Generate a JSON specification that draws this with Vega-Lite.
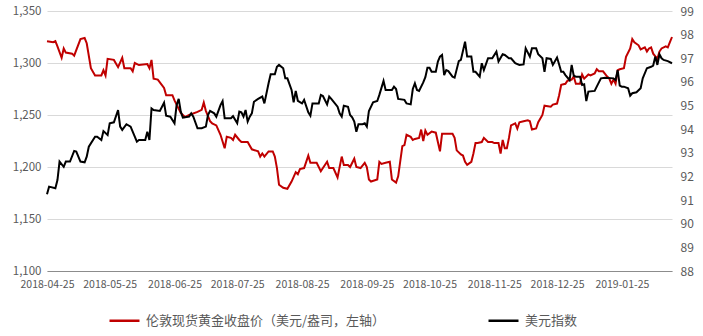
{
  "$schema": "https://vega.github.io/schema/vega-lite/v6.json",
  "width": 625,
  "height": 260,
  "autosize": {"type": "none"},
  "padding": {"left": 47, "top": 11, "right": 31, "bottom": 65},
  "background": "white",
  "config": {
    "view": {"stroke": null},
    "font": "Noto Sans CJK SC",
    "axis": {"labelColor": "#595959", "labelFont": "Noto Sans CJK SC"},
    "legend": {"labelFont": "Noto Sans CJK SC"}
  },
  "datasets": {
    "gold": [
      {"date": "2018-04-25", "v": 1321}, {"date": "2018-04-28", "v": 1320}, {"date": "2018-04-29", "v": 1321}, {"date": "2018-04-30", "v": 1316},
      {"date": "2018-05-02", "v": 1305}, {"date": "2018-05-03", "v": 1314}, {"date": "2018-05-04", "v": 1310}, {"date": "2018-05-07", "v": 1309},
      {"date": "2018-05-08", "v": 1307}, {"date": "2018-05-11", "v": 1323}, {"date": "2018-05-13", "v": 1324}, {"date": "2018-05-14", "v": 1319},
      {"date": "2018-05-16", "v": 1295}, {"date": "2018-05-18", "v": 1288}, {"date": "2018-05-21", "v": 1288}, {"date": "2018-05-22", "v": 1293},
      {"date": "2018-05-23", "v": 1288}, {"date": "2018-05-24", "v": 1304}, {"date": "2018-05-27", "v": 1303}, {"date": "2018-05-29", "v": 1296},
      {"date": "2018-05-31", "v": 1305}, {"date": "2018-06-01", "v": 1295}, {"date": "2018-06-04", "v": 1295}, {"date": "2018-06-05", "v": 1292},
      {"date": "2018-06-06", "v": 1300}, {"date": "2018-06-08", "v": 1298}, {"date": "2018-06-12", "v": 1299}, {"date": "2018-06-13", "v": 1295},
      {"date": "2018-06-14", "v": 1303}, {"date": "2018-06-15", "v": 1285}, {"date": "2018-06-17", "v": 1284}, {"date": "2018-06-20", "v": 1276},
      {"date": "2018-06-21", "v": 1269}, {"date": "2018-06-24", "v": 1269}, {"date": "2018-06-25", "v": 1264}, {"date": "2018-06-28", "v": 1252},
      {"date": "2018-06-30", "v": 1248}, {"date": "2018-07-02", "v": 1250}, {"date": "2018-07-06", "v": 1253}, {"date": "2018-07-08", "v": 1255},
      {"date": "2018-07-09", "v": 1262}, {"date": "2018-07-10", "v": 1254}, {"date": "2018-07-12", "v": 1244}, {"date": "2018-07-13", "v": 1242},
      {"date": "2018-07-15", "v": 1240}, {"date": "2018-07-17", "v": 1231}, {"date": "2018-07-19", "v": 1218}, {"date": "2018-07-20", "v": 1229},
      {"date": "2018-07-22", "v": 1228}, {"date": "2018-07-23", "v": 1226}, {"date": "2018-07-24", "v": 1231}, {"date": "2018-07-26", "v": 1226},
      {"date": "2018-07-27", "v": 1224}, {"date": "2018-07-30", "v": 1224}, {"date": "2018-08-01", "v": 1217}, {"date": "2018-08-04", "v": 1215},
      {"date": "2018-08-05", "v": 1210}, {"date": "2018-08-06", "v": 1213}, {"date": "2018-08-07", "v": 1210}, {"date": "2018-08-09", "v": 1215},
      {"date": "2018-08-11", "v": 1215}, {"date": "2018-08-12", "v": 1210}, {"date": "2018-08-13", "v": 1199}, {"date": "2018-08-14", "v": 1183},
      {"date": "2018-08-16", "v": 1180}, {"date": "2018-08-18", "v": 1179}, {"date": "2018-08-20", "v": 1186}, {"date": "2018-08-22", "v": 1195},
      {"date": "2018-08-23", "v": 1193}, {"date": "2018-08-24", "v": 1198}, {"date": "2018-08-26", "v": 1199}, {"date": "2018-08-28", "v": 1211},
      {"date": "2018-08-29", "v": 1204}, {"date": "2018-09-01", "v": 1204}, {"date": "2018-09-03", "v": 1196}, {"date": "2018-09-04", "v": 1199},
      {"date": "2018-09-06", "v": 1205}, {"date": "2018-09-07", "v": 1199}, {"date": "2018-09-09", "v": 1199}, {"date": "2018-09-11", "v": 1190},
      {"date": "2018-09-13", "v": 1210}, {"date": "2018-09-14", "v": 1202}, {"date": "2018-09-16", "v": 1202}, {"date": "2018-09-17", "v": 1200},
      {"date": "2018-09-19", "v": 1208}, {"date": "2018-09-20", "v": 1200}, {"date": "2018-09-22", "v": 1199}, {"date": "2018-09-24", "v": 1204},
      {"date": "2018-09-25", "v": 1200}, {"date": "2018-09-26", "v": 1188}, {"date": "2018-09-27", "v": 1186}, {"date": "2018-09-30", "v": 1188},
      {"date": "2018-10-01", "v": 1205}, {"date": "2018-10-02", "v": 1203}, {"date": "2018-10-04", "v": 1204}, {"date": "2018-10-06", "v": 1205},
      {"date": "2018-10-07", "v": 1188}, {"date": "2018-10-09", "v": 1185}, {"date": "2018-10-10", "v": 1191}, {"date": "2018-10-12", "v": 1220},
      {"date": "2018-10-13", "v": 1221}, {"date": "2018-10-14", "v": 1231}, {"date": "2018-10-16", "v": 1229}, {"date": "2018-10-17", "v": 1226},
      {"date": "2018-10-18", "v": 1227}, {"date": "2018-10-20", "v": 1228}, {"date": "2018-10-21", "v": 1236}, {"date": "2018-10-22", "v": 1225},
      {"date": "2018-10-23", "v": 1235}, {"date": "2018-10-24", "v": 1231}, {"date": "2018-10-26", "v": 1234}, {"date": "2018-10-28", "v": 1233},
      {"date": "2018-10-29", "v": 1224}, {"date": "2018-10-30", "v": 1215}, {"date": "2018-10-31", "v": 1232}, {"date": "2018-11-02", "v": 1232},
      {"date": "2018-11-05", "v": 1232}, {"date": "2018-11-06", "v": 1228}, {"date": "2018-11-07", "v": 1216}, {"date": "2018-11-09", "v": 1212},
      {"date": "2018-11-10", "v": 1211}, {"date": "2018-11-11", "v": 1205}, {"date": "2018-11-12", "v": 1202}, {"date": "2018-11-14", "v": 1205},
      {"date": "2018-11-15", "v": 1213}, {"date": "2018-11-16", "v": 1223}, {"date": "2018-11-17", "v": 1223}, {"date": "2018-11-19", "v": 1224},
      {"date": "2018-11-20", "v": 1228}, {"date": "2018-11-22", "v": 1224}, {"date": "2018-11-24", "v": 1224}, {"date": "2018-11-25", "v": 1223},
      {"date": "2018-11-27", "v": 1223}, {"date": "2018-11-28", "v": 1213}, {"date": "2018-11-29", "v": 1226}, {"date": "2018-11-30", "v": 1218},
      {"date": "2018-12-01", "v": 1218}, {"date": "2018-12-02", "v": 1228}, {"date": "2018-12-03", "v": 1240}, {"date": "2018-12-05", "v": 1242},
      {"date": "2018-12-06", "v": 1237}, {"date": "2018-12-07", "v": 1243}, {"date": "2018-12-09", "v": 1244}, {"date": "2018-12-11", "v": 1245},
      {"date": "2018-12-12", "v": 1244}, {"date": "2018-12-13", "v": 1236}, {"date": "2018-12-15", "v": 1237}, {"date": "2018-12-16", "v": 1243},
      {"date": "2018-12-18", "v": 1250}, {"date": "2018-12-19", "v": 1259}, {"date": "2018-12-22", "v": 1258}, {"date": "2018-12-23", "v": 1260},
      {"date": "2018-12-25", "v": 1261}, {"date": "2018-12-26", "v": 1269}, {"date": "2018-12-27", "v": 1279}, {"date": "2018-12-29", "v": 1280},
      {"date": "2018-12-30", "v": 1283}, {"date": "2019-01-01", "v": 1284}, {"date": "2019-01-02", "v": 1287}, {"date": "2019-01-03", "v": 1280},
      {"date": "2019-01-05", "v": 1280}, {"date": "2019-01-06", "v": 1289}, {"date": "2019-01-07", "v": 1285}, {"date": "2019-01-09", "v": 1289},
      {"date": "2019-01-10", "v": 1288}, {"date": "2019-01-12", "v": 1290}, {"date": "2019-01-13", "v": 1294}, {"date": "2019-01-14", "v": 1292},
      {"date": "2019-01-16", "v": 1292}, {"date": "2019-01-18", "v": 1287}, {"date": "2019-01-19", "v": 1285}, {"date": "2019-01-20", "v": 1280},
      {"date": "2019-01-21", "v": 1284}, {"date": "2019-01-22", "v": 1280}, {"date": "2019-01-23", "v": 1293}, {"date": "2019-01-24", "v": 1294},
      {"date": "2019-01-26", "v": 1295}, {"date": "2019-01-27", "v": 1306}, {"date": "2019-01-29", "v": 1314}, {"date": "2019-01-30", "v": 1323},
      {"date": "2019-01-31", "v": 1320}, {"date": "2019-02-02", "v": 1317}, {"date": "2019-02-03", "v": 1313}, {"date": "2019-02-05", "v": 1315},
      {"date": "2019-02-06", "v": 1311}, {"date": "2019-02-07", "v": 1314}, {"date": "2019-02-08", "v": 1315}, {"date": "2019-02-09", "v": 1309},
      {"date": "2019-02-11", "v": 1304}, {"date": "2019-02-12", "v": 1311}, {"date": "2019-02-13", "v": 1314}, {"date": "2019-02-15", "v": 1316},
      {"date": "2019-02-16", "v": 1315}, {"date": "2019-02-17", "v": 1320}, {"date": "2019-02-18", "v": 1325}
    ],
    "dxy": [
      {"date": "2018-04-25", "v": 91.25}, {"date": "2018-04-26", "v": 91.57}, {"date": "2018-04-29", "v": 91.5}, {"date": "2018-04-30", "v": 91.85},
      {"date": "2018-05-01", "v": 92.63}, {"date": "2018-05-03", "v": 92.41}, {"date": "2018-05-04", "v": 92.63}, {"date": "2018-05-06", "v": 92.63},
      {"date": "2018-05-08", "v": 93.08}, {"date": "2018-05-09", "v": 93.05}, {"date": "2018-05-11", "v": 92.63}, {"date": "2018-05-13", "v": 92.6},
      {"date": "2018-05-14", "v": 92.84}, {"date": "2018-05-15", "v": 93.26}, {"date": "2018-05-18", "v": 93.68}, {"date": "2018-05-19", "v": 93.68},
      {"date": "2018-05-21", "v": 93.54}, {"date": "2018-05-22", "v": 93.92}, {"date": "2018-05-24", "v": 93.75}, {"date": "2018-05-25", "v": 94.25},
      {"date": "2018-05-27", "v": 94.29}, {"date": "2018-05-29", "v": 94.81}, {"date": "2018-05-30", "v": 94.11}, {"date": "2018-05-31", "v": 93.97},
      {"date": "2018-06-02", "v": 94.21}, {"date": "2018-06-04", "v": 94.11}, {"date": "2018-06-07", "v": 93.47}, {"date": "2018-06-08", "v": 93.54},
      {"date": "2018-06-11", "v": 93.54}, {"date": "2018-06-12", "v": 93.89}, {"date": "2018-06-13", "v": 93.54}, {"date": "2018-06-14", "v": 94.88},
      {"date": "2018-06-15", "v": 94.81}, {"date": "2018-06-18", "v": 94.77}, {"date": "2018-06-20", "v": 95.12}, {"date": "2018-06-21", "v": 94.57},
      {"date": "2018-06-23", "v": 94.53}, {"date": "2018-06-25", "v": 94.25}, {"date": "2018-06-26", "v": 95.02}, {"date": "2018-06-27", "v": 95.28},
      {"date": "2018-06-28", "v": 94.74}, {"date": "2018-06-29", "v": 94.49}, {"date": "2018-07-02", "v": 94.53}, {"date": "2018-07-03", "v": 94.67},
      {"date": "2018-07-04", "v": 94.53}, {"date": "2018-07-06", "v": 94.04}, {"date": "2018-07-08", "v": 94.04}, {"date": "2018-07-10", "v": 94.11},
      {"date": "2018-07-11", "v": 94.6}, {"date": "2018-07-12", "v": 94.77}, {"date": "2018-07-14", "v": 94.67}, {"date": "2018-07-15", "v": 94.53},
      {"date": "2018-07-17", "v": 95.02}, {"date": "2018-07-18", "v": 95.19}, {"date": "2018-07-19", "v": 94.46}, {"date": "2018-07-22", "v": 94.46},
      {"date": "2018-07-23", "v": 94.55}, {"date": "2018-07-25", "v": 94.25}, {"date": "2018-07-26", "v": 94.74}, {"date": "2018-07-27", "v": 94.71},
      {"date": "2018-07-28", "v": 94.53}, {"date": "2018-07-29", "v": 94.81}, {"date": "2018-07-30", "v": 94.32}, {"date": "2018-07-31", "v": 94.53},
      {"date": "2018-08-01", "v": 94.67}, {"date": "2018-08-02", "v": 95.16}, {"date": "2018-08-04", "v": 95.28}, {"date": "2018-08-06", "v": 95.38},
      {"date": "2018-08-07", "v": 95.09}, {"date": "2018-08-09", "v": 95.94}, {"date": "2018-08-10", "v": 96.32}, {"date": "2018-08-12", "v": 96.32},
      {"date": "2018-08-13", "v": 96.64}, {"date": "2018-08-14", "v": 96.72}, {"date": "2018-08-16", "v": 96.58}, {"date": "2018-08-17", "v": 96.15},
      {"date": "2018-08-18", "v": 96.15}, {"date": "2018-08-20", "v": 95.66}, {"date": "2018-08-21", "v": 95.14}, {"date": "2018-08-22", "v": 95.62},
      {"date": "2018-08-23", "v": 95.2}, {"date": "2018-08-25", "v": 95.09}, {"date": "2018-08-26", "v": 95.24}, {"date": "2018-08-28", "v": 94.71},
      {"date": "2018-08-29", "v": 94.57}, {"date": "2018-08-30", "v": 95.09}, {"date": "2018-09-02", "v": 95.09}, {"date": "2018-09-03", "v": 95.45},
      {"date": "2018-09-04", "v": 95.4}, {"date": "2018-09-06", "v": 95.05}, {"date": "2018-09-07", "v": 95.38}, {"date": "2018-09-08", "v": 95.28},
      {"date": "2018-09-11", "v": 94.95}, {"date": "2018-09-12", "v": 94.67}, {"date": "2018-09-13", "v": 94.53}, {"date": "2018-09-14", "v": 94.99},
      {"date": "2018-09-16", "v": 94.95}, {"date": "2018-09-17", "v": 94.6}, {"date": "2018-09-18", "v": 94.5}, {"date": "2018-09-19", "v": 94.32},
      {"date": "2018-09-20", "v": 93.89}, {"date": "2018-09-21", "v": 94.21}, {"date": "2018-09-23", "v": 94.21}, {"date": "2018-09-24", "v": 94.25},
      {"date": "2018-09-25", "v": 94.11}, {"date": "2018-09-26", "v": 94.77}, {"date": "2018-09-28", "v": 95.14}, {"date": "2018-09-30", "v": 95.19},
      {"date": "2018-10-01", "v": 95.45}, {"date": "2018-10-03", "v": 96.04}, {"date": "2018-10-04", "v": 95.66}, {"date": "2018-10-07", "v": 95.66},
      {"date": "2018-10-08", "v": 95.8}, {"date": "2018-10-09", "v": 95.7}, {"date": "2018-10-10", "v": 95.28}, {"date": "2018-10-13", "v": 95.24},
      {"date": "2018-10-14", "v": 95.09}, {"date": "2018-10-16", "v": 95.05}, {"date": "2018-10-17", "v": 95.7}, {"date": "2018-10-18", "v": 95.94},
      {"date": "2018-10-19", "v": 95.66}, {"date": "2018-10-20", "v": 95.62}, {"date": "2018-10-22", "v": 95.98}, {"date": "2018-10-23", "v": 96.2},
      {"date": "2018-10-24", "v": 96.6}, {"date": "2018-10-25", "v": 96.6}, {"date": "2018-10-26", "v": 96.43}, {"date": "2018-10-28", "v": 96.43},
      {"date": "2018-10-29", "v": 96.86}, {"date": "2018-10-30", "v": 97.07}, {"date": "2018-10-31", "v": 97.14}, {"date": "2018-11-01", "v": 96.29},
      {"date": "2018-11-02", "v": 96.5}, {"date": "2018-11-03", "v": 96.46}, {"date": "2018-11-05", "v": 96.22}, {"date": "2018-11-06", "v": 96.18},
      {"date": "2018-11-08", "v": 96.88}, {"date": "2018-11-09", "v": 96.93}, {"date": "2018-11-11", "v": 97.7}, {"date": "2018-11-12", "v": 97.07},
      {"date": "2018-11-14", "v": 97.07}, {"date": "2018-11-15", "v": 96.43}, {"date": "2018-11-16", "v": 96.43}, {"date": "2018-11-18", "v": 96.22},
      {"date": "2018-11-19", "v": 96.79}, {"date": "2018-11-20", "v": 96.5}, {"date": "2018-11-22", "v": 97.0}, {"date": "2018-11-24", "v": 97.0},
      {"date": "2018-11-26", "v": 97.28}, {"date": "2018-11-27", "v": 96.86}, {"date": "2018-11-29", "v": 97.17}, {"date": "2018-11-30", "v": 97.14},
      {"date": "2018-12-02", "v": 97.0}, {"date": "2018-12-03", "v": 97.0}, {"date": "2018-12-05", "v": 96.79}, {"date": "2018-12-07", "v": 96.72},
      {"date": "2018-12-09", "v": 96.74}, {"date": "2018-12-10", "v": 97.42}, {"date": "2018-12-12", "v": 97.07}, {"date": "2018-12-13", "v": 97.42},
      {"date": "2018-12-15", "v": 97.42}, {"date": "2018-12-16", "v": 97.17}, {"date": "2018-12-18", "v": 97.0}, {"date": "2018-12-19", "v": 96.43},
      {"date": "2018-12-20", "v": 97.0}, {"date": "2018-12-22", "v": 96.97}, {"date": "2018-12-23", "v": 96.72}, {"date": "2018-12-25", "v": 97.03},
      {"date": "2018-12-26", "v": 96.74}, {"date": "2018-12-27", "v": 96.43}, {"date": "2018-12-28", "v": 96.43}, {"date": "2018-12-29", "v": 96.29},
      {"date": "2018-12-31", "v": 96.08}, {"date": "2019-01-01", "v": 96.72}, {"date": "2019-01-02", "v": 96.26}, {"date": "2019-01-03", "v": 96.22},
      {"date": "2019-01-05", "v": 96.22}, {"date": "2019-01-06", "v": 95.87}, {"date": "2019-01-07", "v": 95.9}, {"date": "2019-01-08", "v": 95.19},
      {"date": "2019-01-09", "v": 95.59}, {"date": "2019-01-12", "v": 95.62}, {"date": "2019-01-13", "v": 95.8}, {"date": "2019-01-15", "v": 96.15},
      {"date": "2019-01-17", "v": 96.18}, {"date": "2019-01-21", "v": 96.15}, {"date": "2019-01-22", "v": 96.08}, {"date": "2019-01-23", "v": 96.5},
      {"date": "2019-01-24", "v": 95.84}, {"date": "2019-01-25", "v": 95.8}, {"date": "2019-01-26", "v": 95.8}, {"date": "2019-01-28", "v": 95.73},
      {"date": "2019-01-29", "v": 95.42}, {"date": "2019-01-30", "v": 95.52}, {"date": "2019-02-01", "v": 95.56}, {"date": "2019-02-03", "v": 95.73},
      {"date": "2019-02-04", "v": 96.15}, {"date": "2019-02-06", "v": 96.58}, {"date": "2019-02-08", "v": 96.64}, {"date": "2019-02-09", "v": 96.69},
      {"date": "2019-02-10", "v": 97.07}, {"date": "2019-02-11", "v": 96.72}, {"date": "2019-02-12", "v": 97.17}, {"date": "2019-02-13", "v": 97.0},
      {"date": "2019-02-14", "v": 96.93}, {"date": "2019-02-16", "v": 96.88}, {"date": "2019-02-18", "v": 96.79}
    ]
  },
  "encoding": {
    "x": {
      "field": "date",
      "type": "temporal",
      "scale": {"type": "utc", "domain": [{"year": 2018, "month": 4, "date": 25, "utc": true}, {"year": 2019, "month": 2, "date": 18, "utc": true}]},
      "axis": {
        "title": null,
        "values": [
          {"year": 2018, "month": 4, "date": 25, "utc": true},
          {"year": 2018, "month": 5, "date": 25, "utc": true},
          {"year": 2018, "month": 6, "date": 25, "utc": true},
          {"year": 2018, "month": 7, "date": 25, "utc": true},
          {"year": 2018, "month": 8, "date": 25, "utc": true},
          {"year": 2018, "month": 9, "date": 25, "utc": true},
          {"year": 2018, "month": 10, "date": 25, "utc": true},
          {"year": 2018, "month": 11, "date": 25, "utc": true},
          {"year": 2018, "month": 12, "date": 25, "utc": true},
          {"year": 2019, "month": 1, "date": 25, "utc": true}
        ],
        "format": "%Y-%m-%d",
        "grid": false,
        "ticks": false,
        "domainColor": "#8c8c8c",
        "domainWidth": 1,
        "labelFontSize": 10.5,
        "labelPadding": 8,
        "labelOverlap": false,
        "labelFlush": false
      }
    },
    "color": {
      "datum": "伦敦现货黄金收盘价（美元/盎司，左轴）",
      "type": "nominal",
      "scale": {
        "domain": ["伦敦现货黄金收盘价（美元/盎司，左轴）", "美元指数"],
        "range": ["#C00000", "#000000"]
      },
      "legend": {
        "title": null,
        "orient": "none",
        "direction": "horizontal",
        "legendX": 61,
        "legendY": 293,
        "symbolType": "stroke",
        "symbolSize": 900,
        "symbolStrokeWidth": 2.5,
        "labelFontSize": 13,
        "labelColor": "#595959",
        "labelLimit": 400,
        "labelOffset": 5,
        "columnPadding": 97
      }
    }
  },
  "layer": [
    {
      "data": {"name": "gold"},
      "mark": {"type": "line", "strokeWidth": 2, "color": "#C00000"},
      "encoding": {
        "y": {
          "field": "v",
          "type": "quantitative",
          "scale": {"domain": [1100, 1350], "nice": false, "zero": false},
          "axis": {
            "title": null,
            "orient": "left",
            "values": [1100, 1150, 1200, 1250, 1300, 1350],
            "format": ",.0f",
            "grid": true,
            "gridColor": "#d9d9d9",
            "domain": false,
            "ticks": false,
            "labelFontSize": 11.5,
            "labelPadding": 6
          }
        }
      }
    },
    {
      "data": {"name": "dxy"},
      "mark": {"type": "line", "strokeWidth": 2, "color": "#000000"},
      "encoding": {
        "y": {
          "field": "v",
          "type": "quantitative",
          "scale": {"domain": [88, 99], "nice": false, "zero": false},
          "axis": {
            "title": null,
            "orient": "right",
            "values": [88, 89, 90, 91, 92, 93, 94, 95, 96, 97, 98, 99],
            "grid": false,
            "domain": false,
            "ticks": false,
            "labelFontSize": 12,
            "labelPadding": 8
          }
        },
        "color": {"datum": "美元指数", "type": "nominal"}
      }
    }
  ],
  "resolve": {"scale": {"y": "independent"}}
}
